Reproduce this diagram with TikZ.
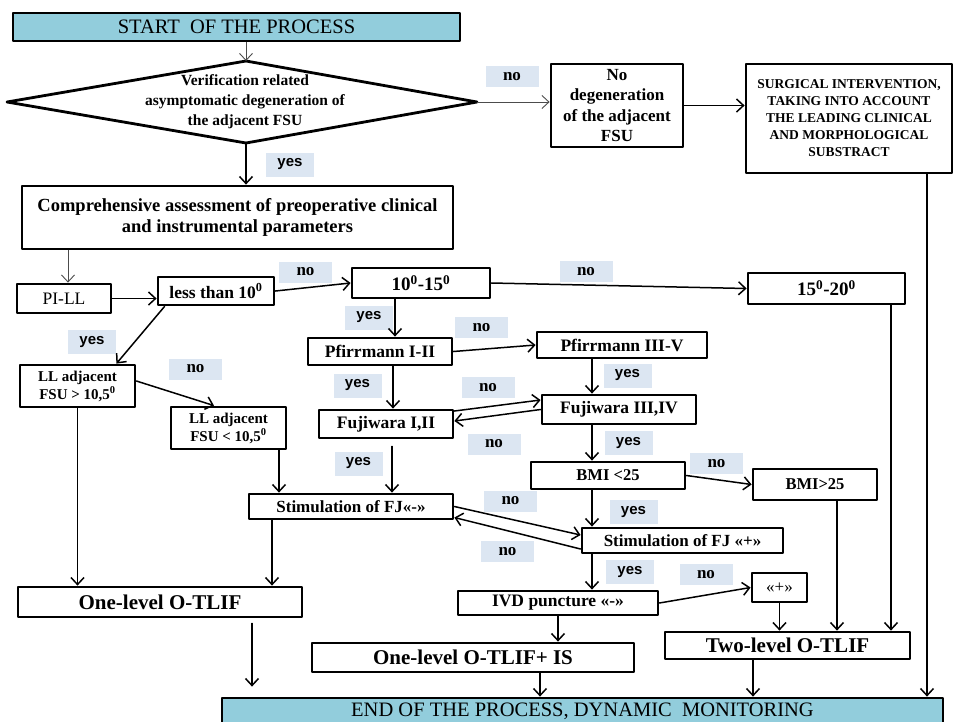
\documentclass[tikz,border=0pt]{standalone}
\usepackage{fontspec}
\setmainfont{Liberation Serif}
\newfontfamily\yesfont{Liberation Sans}
\usetikzlibrary{arrows.meta}
\definecolor{procblue}{RGB}{146,205,220}
\definecolor{lblblue}{RGB}{220,230,242}
\begin{document}
\begin{tikzpicture}[x=1pt,y=-1pt,line cap=round,line join=round,>={Straight Barb[length=7pt,width=13pt]},
bx/.style={draw,line width=2.8pt,inner sep=1pt,align=center,font=\bfseries\fontsize{17.5}{21}\selectfont},
procbox/.style={bx,fill=procblue,font=\fontsize{20.5}{24}\selectfont},
otlif/.style={bx,font=\bfseries\fontsize{21}{24}\selectfont},
yeslbl/.style={fill=lblblue,minimum width=48pt,minimum height=24pt,inner sep=0pt,font=\yesfont\bfseries\fontsize{15}{18}\selectfont},
nolbl/.style={fill=lblblue,minimum width=53pt,minimum height=21pt,inner sep=0pt,font=\bfseries\fontsize{17}{20}\selectfont},
cn/.style={->,line width=1.5pt},
thincn/.style={->,line width=0.9pt,draw=black!70}]
\useasboundingbox (0,0) rectangle (954,721);
\clip (0,0) rectangle (954,721);

\node[procbox,minimum width=447pt,minimum height=28pt] (start) at (236.5,27) {START\ \ OF THE PROCESS};

\coordinate (vL) at (7,102);
\coordinate (vT) at (246,61);
\coordinate (vR) at (477,102);
\coordinate (vB) at (246,143);
\draw[line width=2.8pt] (vL) -- (vT) -- (vR) -- (vB) -- cycle;
\node[font=\bfseries\fontsize{15.5}{20}\selectfont,align=center] (verif) at (245,102) {Verification related\\asymptomatic degeneration of\\the adjacent FSU};

\node[bx,font=\bfseries\fontsize{17}{20.5}\selectfont,minimum width=132pt,minimum height=83pt] (nodeg) at (617,105.5) {No\\degeneration\\of the adjacent\\FSU};
\node[bx,font=\bfseries\fontsize{13.5}{17}\selectfont,minimum width=206pt,minimum height=109pt] (surg) at (849,118.5) {SURGICAL INTERVENTION,\\TAKING INTO ACCOUNT\\THE LEADING CLINICAL\\AND MORPHOLOGICAL\\SUBSTRACT};
\node[bx,font=\bfseries\fontsize{18.5}{21}\selectfont,minimum width=431pt,minimum height=63pt] (assess) at (237.5,217.5) {Comprehensive assessment of preoperative clinical\\and instrumental parameters};

\node[bx,font=\fontsize{17.5}{21}\selectfont,minimum width=94pt,minimum height=29pt] (pill) at (64,298.5) {PI-LL};
\node[bx,minimum width=116pt,minimum height=28pt] (less) at (216,291) {less than 10\textsuperscript{0}};
\node[bx,font=\bfseries\fontsize{19}{21}\selectfont,minimum width=138pt,minimum height=30pt] (r1015) at (421,283) {10\textsuperscript{0}-15\textsuperscript{0}};
\node[bx,font=\bfseries\fontsize{19}{21}\selectfont,minimum width=157pt,minimum height=31pt] (r1520) at (826.5,288.5) {15\textsuperscript{0}-20\textsuperscript{0}};

\node[bx,font=\bfseries\fontsize{15}{18}\selectfont,minimum width=115pt,minimum height=42pt] (llgt) at (77.5,386) {LL adjacent\\FSU > 10,5\textsuperscript{0}};
\node[bx,font=\bfseries\fontsize{15}{18}\selectfont,minimum width=115pt,minimum height=42pt] (lllt) at (228.5,428) {LL adjacent\\FSU < 10,5\textsuperscript{0}};

\node[bx,minimum width=144pt,minimum height=27pt] (pf12) at (380,351.5) {Pfirrmann I-II};
\node[bx,minimum width=170pt,minimum height=26pt] (pf35) at (622,345) {Pfirrmann III-V};
\node[bx,minimum width=134pt,minimum height=28pt] (fj12) at (386,424) {Fujiwara I,II};
\node[bx,minimum width=154pt,minimum height=29pt] (fj34) at (619,409.5) {Fujiwara III,IV};
\node[bx,font=\bfseries\fontsize{16.5}{20}\selectfont,minimum width=154pt,minimum height=27pt] (bmilt) at (608,475.5) {BMI <25};
\node[bx,font=\bfseries\fontsize{16.5}{20}\selectfont,minimum width=124pt,minimum height=31pt] (bmigt) at (815,484.5) {BMI>25};
\node[bx,font=\bfseries\fontsize{17}{20}\selectfont,minimum width=204pt,minimum height=25pt] (stimm) at (351,506.5) {Stimulation of FJ«-»};
\node[bx,font=\bfseries\fontsize{17}{20}\selectfont,minimum width=201pt,minimum height=25pt] (stimp) at (682.5,540.5) {Stimulation of FJ «+»};
\node[bx,minimum width=200pt,minimum height=24pt] (ivd) at (558,603) {IVD puncture «-»};
\node[bx,font=\fontsize{17}{20}\selectfont,minimum width=55pt,minimum height=29pt] (plus) at (779.5,587.5) {«+»};

\node[otlif,minimum width=284pt,minimum height=30pt] (one) at (160,602) {One-level O-TLIF};
\node[otlif,minimum width=322pt,minimum height=29pt] (oneis) at (473,657.5) {One-level O-TLIF+ IS};
\node[otlif,minimum width=245pt,minimum height=27pt] (two) at (787.5,645.5) {Two-level O-TLIF};
\node[procbox,minimum width=721pt,minimum height=27pt] (endb) at (582.5,711.5) {END OF THE PROCESS, DYNAMIC\ \ MONITORING};

\node[yeslbl] (y1) at (290,164.5) {yes};
\node[yeslbl] (y2) at (92,342) {yes};
\node[yeslbl] (y3) at (369,317.5) {yes};
\node[yeslbl] (y4) at (357.5,385.5) {yes};
\node[yeslbl] (y5) at (627.5,375.5) {yes};
\node[yeslbl] (y6) at (628.5,443) {yes};
\node[yeslbl] (y7) at (358.5,463.5) {yes};
\node[yeslbl] (y8) at (633.5,512) {yes};
\node[yeslbl] (y9) at (630,572) {yes};

\node[nolbl] (n1) at (512,76.5) {no};
\node[nolbl] (n2) at (305.5,272) {no};
\node[nolbl] (n3) at (195.5,369) {no};
\node[nolbl] (n4) at (586,271.5) {no};
\node[nolbl] (n5) at (481.5,327.5) {no};
\node[nolbl] (n6) at (488,387.5) {no};
\node[nolbl] (n7) at (494,444) {no};
\node[nolbl] (n8) at (716.5,463.5) {no};
\node[nolbl] (n9) at (510.5,501) {no};
\node[nolbl] (n10) at (507.5,551.5) {no};
\node[nolbl] (n11) at (706,574.5) {no};

\draw[thincn] (start.south -| vT) -- (vT);
\draw[thincn] (vR) -- (vR -| nodeg.west);
\draw[cn] (nodeg.east) -- (nodeg.east -| surg.west);
\draw[cn] ([xshift=78pt]surg.south) -- ([xshift=78pt]surg.south |- endb.north);
\draw[cn] (vB) -- (vB |- assess.north);
\draw[thincn] ([xshift=4pt]pill.north |- assess.south) -- ([xshift=4pt]pill.north);

\draw[cn] (pill.east) -- (pill.east -| less.west);
\draw[cn] (less.east) -- (r1015.west);
\draw[cn] (r1015.east) -- (r1520.west);
\draw[cn] ([xshift=-26pt]r1015.south) -- ([xshift=-26pt]r1015.south |- pf12.north);
\draw[cn] (pf12.east) -- (pf35.west);
\draw[cn] ([xshift=13pt]pf12.south) -- ([xshift=13pt]pf12.south |- fj12.north);
\draw[cn] ([xshift=-30pt]pf35.south) -- ([xshift=-30pt]pf35.south |- fj34.north);
\draw[cn] ([yshift=13pt]fj12.east) -- ([yshift=9.5pt]fj34.west);
\draw[cn] (fj34.west) -- ([yshift=3pt]fj12.east);
\draw[cn] ([xshift=-27pt]fj34.south) -- ([xshift=-27pt]fj34.south |- bmilt.north);
\draw[cn] (bmilt.east) -- (bmigt.west);
\draw[cn] ([xshift=22pt]bmigt.south) -- ([xshift=22pt]bmigt.south |- two.north);
\draw[cn] ([xshift=64.5pt]r1520.south) -- ([xshift=64.5pt]r1520.south |- two.north);
\draw[cn] ([xshift=-16pt]bmilt.south) -- ([xshift=-16pt]bmilt.south |- stimp.north);
\draw[cn] (stimm.east) -- ([yshift=5.5pt]stimp.west);
\draw[cn] ([yshift=-8.5pt]stimp.west) -- ([yshift=-11pt]stimm.east);
\draw[cn] ([xshift=-90.5pt]stimp.south) -- ([xshift=-90.5pt]stimp.south |- ivd.north);
\draw[cn] (ivd.east) -- (plus.west);
\draw[cn] (plus.south) -- (plus.south |- two.north);
\draw[cn] (ivd.south) -- (ivd.south |- oneis.north);
\draw[cn] ([xshift=67pt]oneis.south) -- ([xshift=67pt]oneis.south |- endb.north);
\draw[cn] ([xshift=-34.5pt]two.south) -- ([xshift=-34.5pt]two.south |- endb.north);
\draw[cn,shorten <=5pt,shorten >=10pt] ([xshift=92pt]one.south) -- ([xshift=92pt]one.south |- endb.north);

\draw[cn] ([xshift=8pt]less.south west) -- ([xshift=-20pt]llgt.north east);
\draw[cn] ([yshift=5pt]llgt.east) -- ([xshift=-14.5pt]lllt.north);
\draw[cn] (llgt.south) -- (llgt.south |- one.north);
\draw[cn] ([xshift=50.5pt]lllt.south) -- ([xshift=50.5pt]lllt.south |- stimm.north);
\draw[cn,shorten <=7pt] ([xshift=6pt]fj12.south) -- ([xshift=6pt]fj12.south |- stimm.north);
\draw[cn] ([xshift=-79pt]stimm.south) -- ([xshift=-79pt]stimm.south |- one.north);
\end{tikzpicture}
\end{document}
